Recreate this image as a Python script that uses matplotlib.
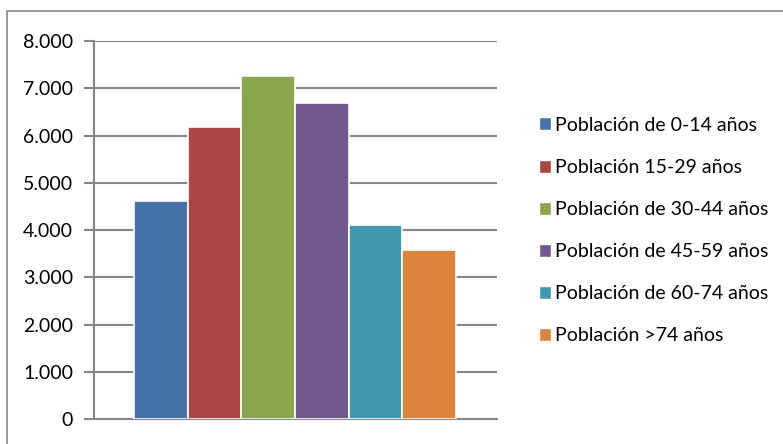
import matplotlib
matplotlib.use("Agg")
import matplotlib.pyplot as plt
from matplotlib.patches import Patch, Rectangle
from matplotlib.ticker import FuncFormatter

grupos = ["Población de 0-14 años", "Población 15-29 años", "Población de 30-44 años",
          "Población de 45-59 años", "Población de 60-74 años", "Población >74 años"]
poblacion = [4620, 6190, 7250, 6690, 4100, 3580]
colores = ["#4572a7", "#aa4643", "#89a54e", "#71588f", "#4198af", "#db843d"]

plt.rcParams['font.family'] = ['Lato', 'DejaVu Sans']

fig = plt.figure(figsize=(7.83, 4.44), dpi=100)
ax = fig.add_axes([94/783, 25/444, 403/783, 378/444])

x = list(range(len(poblacion)))
ax.bar(x, poblacion, width=1.0, color=colores, edgecolor="white", linewidth=1.2, zorder=3)

ax.set_ylim(0, 8000)
ax.set_xlim(-1.245, 6.26)
ax.set_yticks(range(0, 8001, 1000))
ax.yaxis.set_major_formatter(FuncFormatter(lambda v, p: "0" if v == 0 else f"{int(v):,}".replace(",", ".")))
ax.set_xticks([])
ax.grid(axis="y", color="#868686", linewidth=1.5, zorder=0)
ax.tick_params(axis="y", length=7, width=1.5, color="#868686", labelsize=14, pad=8)
for s in ["top", "right"]:
    ax.spines[s].set_visible(False)
for s in ["left", "bottom"]:
    ax.spines[s].set_color("#868686")
    ax.spines[s].set_linewidth(1.5)

handles = [Patch(facecolor=c, edgecolor="white") for c in colores]
fig.legend(handles, grupos, loc="upper left", bbox_to_anchor=(531/783, 1 - 109/444),
           frameon=False, fontsize=14, handlelength=0.65, handleheight=0.65,
           handletextpad=0.2, labelspacing=1.29, borderaxespad=0)

# marco exterior del gráfico
fig.patches.append(Rectangle((7/783, -0.1), 1.0, 1 - 11/444 + 0.1, transform=fig.transFigure,
                             fill=False, edgecolor="#868686", linewidth=1.2))

fig.savefig("out.png", dpi=100)
